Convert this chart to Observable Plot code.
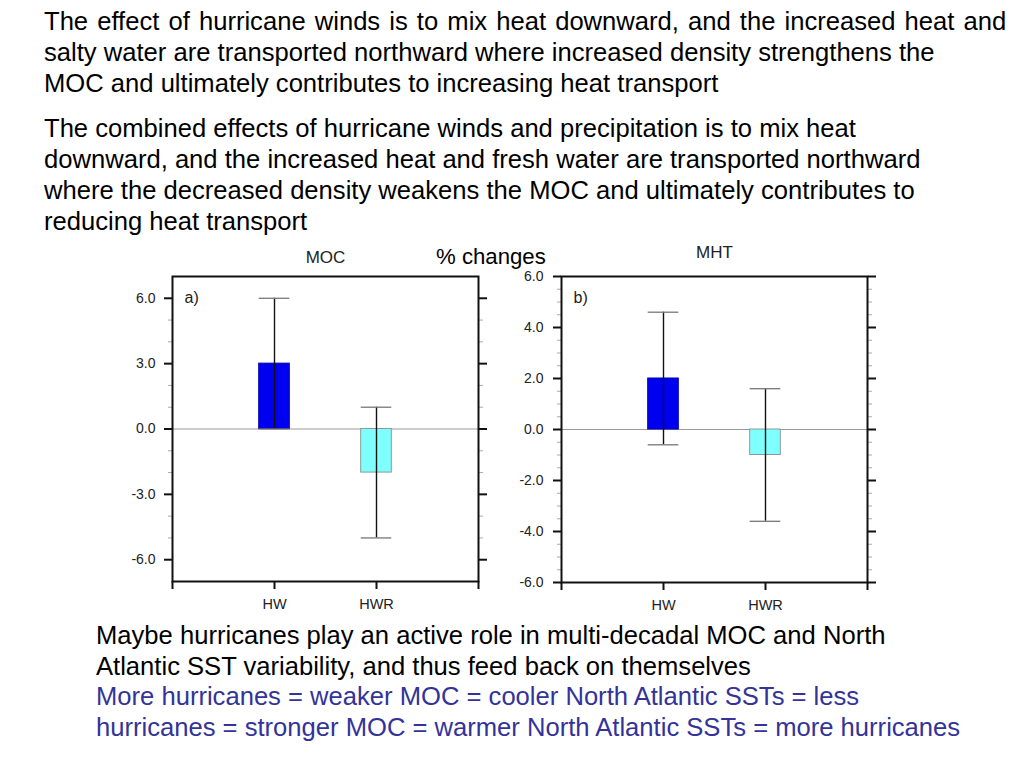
<!DOCTYPE html>
<html>
<head>
<meta charset="utf-8">
<script src="https://cdn.jsdelivr.net/npm/d3@7"></script>
<script src="https://cdn.jsdelivr.net/npm/@observablehq/plot@0.6"></script>
<style>
  html, body { margin: 0; padding: 0; background: #fff; }
  body { width: 1024px; height: 768px; position: relative; overflow: hidden;
         font-family: "Liberation Sans", Arial, Helvetica, sans-serif; }
  .txt { position: absolute; white-space: nowrap; font-size: 25.6px; line-height: 31px; color: #000; }
  .blue { color: #333399; }
  .chart { position: absolute; z-index: 1; }
  #pct { position: absolute; left: 436px; top: 245px; font-size: 22.2px; line-height: 24px; white-space: nowrap; z-index: 5; }
</style>
</head>
<body>
<div class="txt" style="left:44px; top:6px;"><span style="word-spacing:2px;">The effect of hurricane winds is to mix heat downward, and the increased heat and</span><br>salty water are transported northward where increased density strengthens the<br>MOC and ultimately contributes to increasing heat transport</div>
<div class="txt" style="left:44px; top:113px;">The combined effects of hurricane winds and precipitation is to mix heat<br>downward, and the increased heat and fresh water are transported northward<br>where the decreased density weakens the MOC and ultimately contributes to<br>reducing heat transport</div>
<div id="pct">% changes</div>
<div id="chartA" class="chart" style="left:100px; top:240px;"></div>
<div id="chartB" class="chart" style="left:490px; top:240px;"></div>
<div class="txt" style="left:96px; top:620px; line-height:30.7px;">Maybe hurricanes play an active role in multi-decadal MOC and North<br>Atlantic SST variability, and thus feed back on themselves<br><span class="blue">More hurricanes = weaker MOC = cooler North Atlantic SSTs = less<br>hurricanes = stronger MOC = warmer North Atlantic SSTs = more hurricanes</span></div>
<script>
// ---- data ----
const categories = ["HW", "HWR"];
const categoryPositions = [1, 2];
const barColors = ["#0000f0", "#80ffff"];
const barOutline = ["#0000b0", "#8a9a9a"];

const mocValues = [3.0, -2.0];
const mocLow = [0.0, -5.0];
const mocHigh = [6.0, 1.0];

const mhtValues = [2.0, -1.0];
const mhtLow = [-0.6, -3.6];
const mhtHigh = [4.6, 1.6];

const mocMajorTicks = [-6, -3, 0, 3, 6];
const mocMinorTicks = [-5, -4, -2, -1, 1, 2, 4, 5];
const mhtMajorTicks = [-6, -4, -2, 0, 2, 4, 6];
const mhtMinorTicks = [-5.5, -5, -4.5, -3.5, -3, -2.5, -1.5, -1, -0.5, 0.5, 1, 1.5, 2.5, 3, 3.5, 4.5, 5, 5.5];
const xTicks = [0, 1, 2, 3];

const FONT = "'Liberation Sans', Arial, Helvetica, sans-serif";
const HALF = 0.15;

function makeChart({values, low, high, majors, minors, domain, title, titleDy, panel, marginLeft, marginRight, marginBottom, labelPad}) {
  const rows = categories.map((c, i) => ({
    cat: c, x: categoryPositions[i], v: values[i], lo: low[i], hi: high[i],
    fill: barColors[i], outline: barOutline[i]
  }));
  const xLabel = new Map(categories.map((c, i) => [categoryPositions[i], c]));
  return Plot.plot({
    width: 400,
    height: 380,
    marginTop: 36,
    marginBottom,
    marginLeft,
    marginRight,
    x: {type: "linear", domain: [0, 3], axis: null},
    y: {domain, axis: null},
    style: {fontFamily: FONT, fontSize: "14px", color: "#222", background: "transparent", overflow: "visible"},
    marks: [
      Plot.ruleY([0], {stroke: "#9a9a9a", strokeWidth: 1.2}),
      Plot.rect(rows, {x1: d => d.x - HALF, x2: d => d.x + HALF, y1: 0, y2: "v", fill: "fill", stroke: "outline", strokeWidth: 1}),
      Plot.ruleX(rows, {x: "x", y1: "lo", y2: "hi", stroke: "#111", strokeWidth: 1.4}),
      Plot.ruleY(rows, {y: "hi", x1: d => d.x - HALF, x2: d => d.x + HALF, stroke: "#777", strokeWidth: 1.3}),
      Plot.ruleY(rows, {y: "lo", x1: d => d.x - HALF, x2: d => d.x + HALF, stroke: "#777", strokeWidth: 1.3}),
      // left axis
      Plot.axisY(minors, {anchor: "left", tickSize: 4, tickFormat: () => "", stroke: "#aaa", strokeWidth: 1, label: null}),
      Plot.axisY(majors, {anchor: "left", tickSize: 8, tickPadding: labelPad, tickFormat: d => d.toFixed(1), strokeWidth: 2, stroke: "#111", label: null, fill: "#222", fontSize: 14}),
      // right axis
      Plot.axisY(minors, {anchor: "right", tickSize: 4, tickFormat: () => "", stroke: "#aaa", strokeWidth: 1, label: null}),
      Plot.axisY(majors, {anchor: "right", tickSize: 8, tickFormat: () => "", strokeWidth: 2, stroke: "#111", label: null}),
      // bottom axis
      Plot.axisX(xTicks, {anchor: "bottom", tickSize: 8, tickPadding: 9, tickFormat: d => xLabel.get(d) ?? "", strokeWidth: 2, stroke: "#111", label: null, fill: "#222", fontSize: 14.5}),
      Plot.frame({stroke: "#111", strokeWidth: 2}),
      Plot.text([panel], {frameAnchor: "top-left", dx: 12, dy: 21, lineAnchor: "middle", fontSize: 16, fill: "#222"}),
      Plot.text([title], {frameAnchor: "top", dy: titleDy, lineAnchor: "middle", fontSize: 17, fill: "#222"})
    ]
  });
}

document.getElementById("chartA").append(makeChart({
  values: mocValues, low: mocLow, high: mocHigh,
  majors: mocMajorTicks, minors: mocMinorTicks, domain: [-7, 7],
  title: "MOC", titleDy: -19, panel: "a)",
  marginLeft: 72, marginRight: 22, marginBottom: 39, labelPad: 9
}));

document.getElementById("chartB").append(makeChart({
  values: mhtValues, low: mhtLow, high: mhtHigh,
  majors: mhtMajorTicks, minors: mhtMinorTicks, domain: [-6, 6],
  title: "MHT", titleDy: -24, panel: "b)",
  marginLeft: 71, marginRight: 23, marginBottom: 38, labelPad: 10
}));
</script>
</body>
</html>
